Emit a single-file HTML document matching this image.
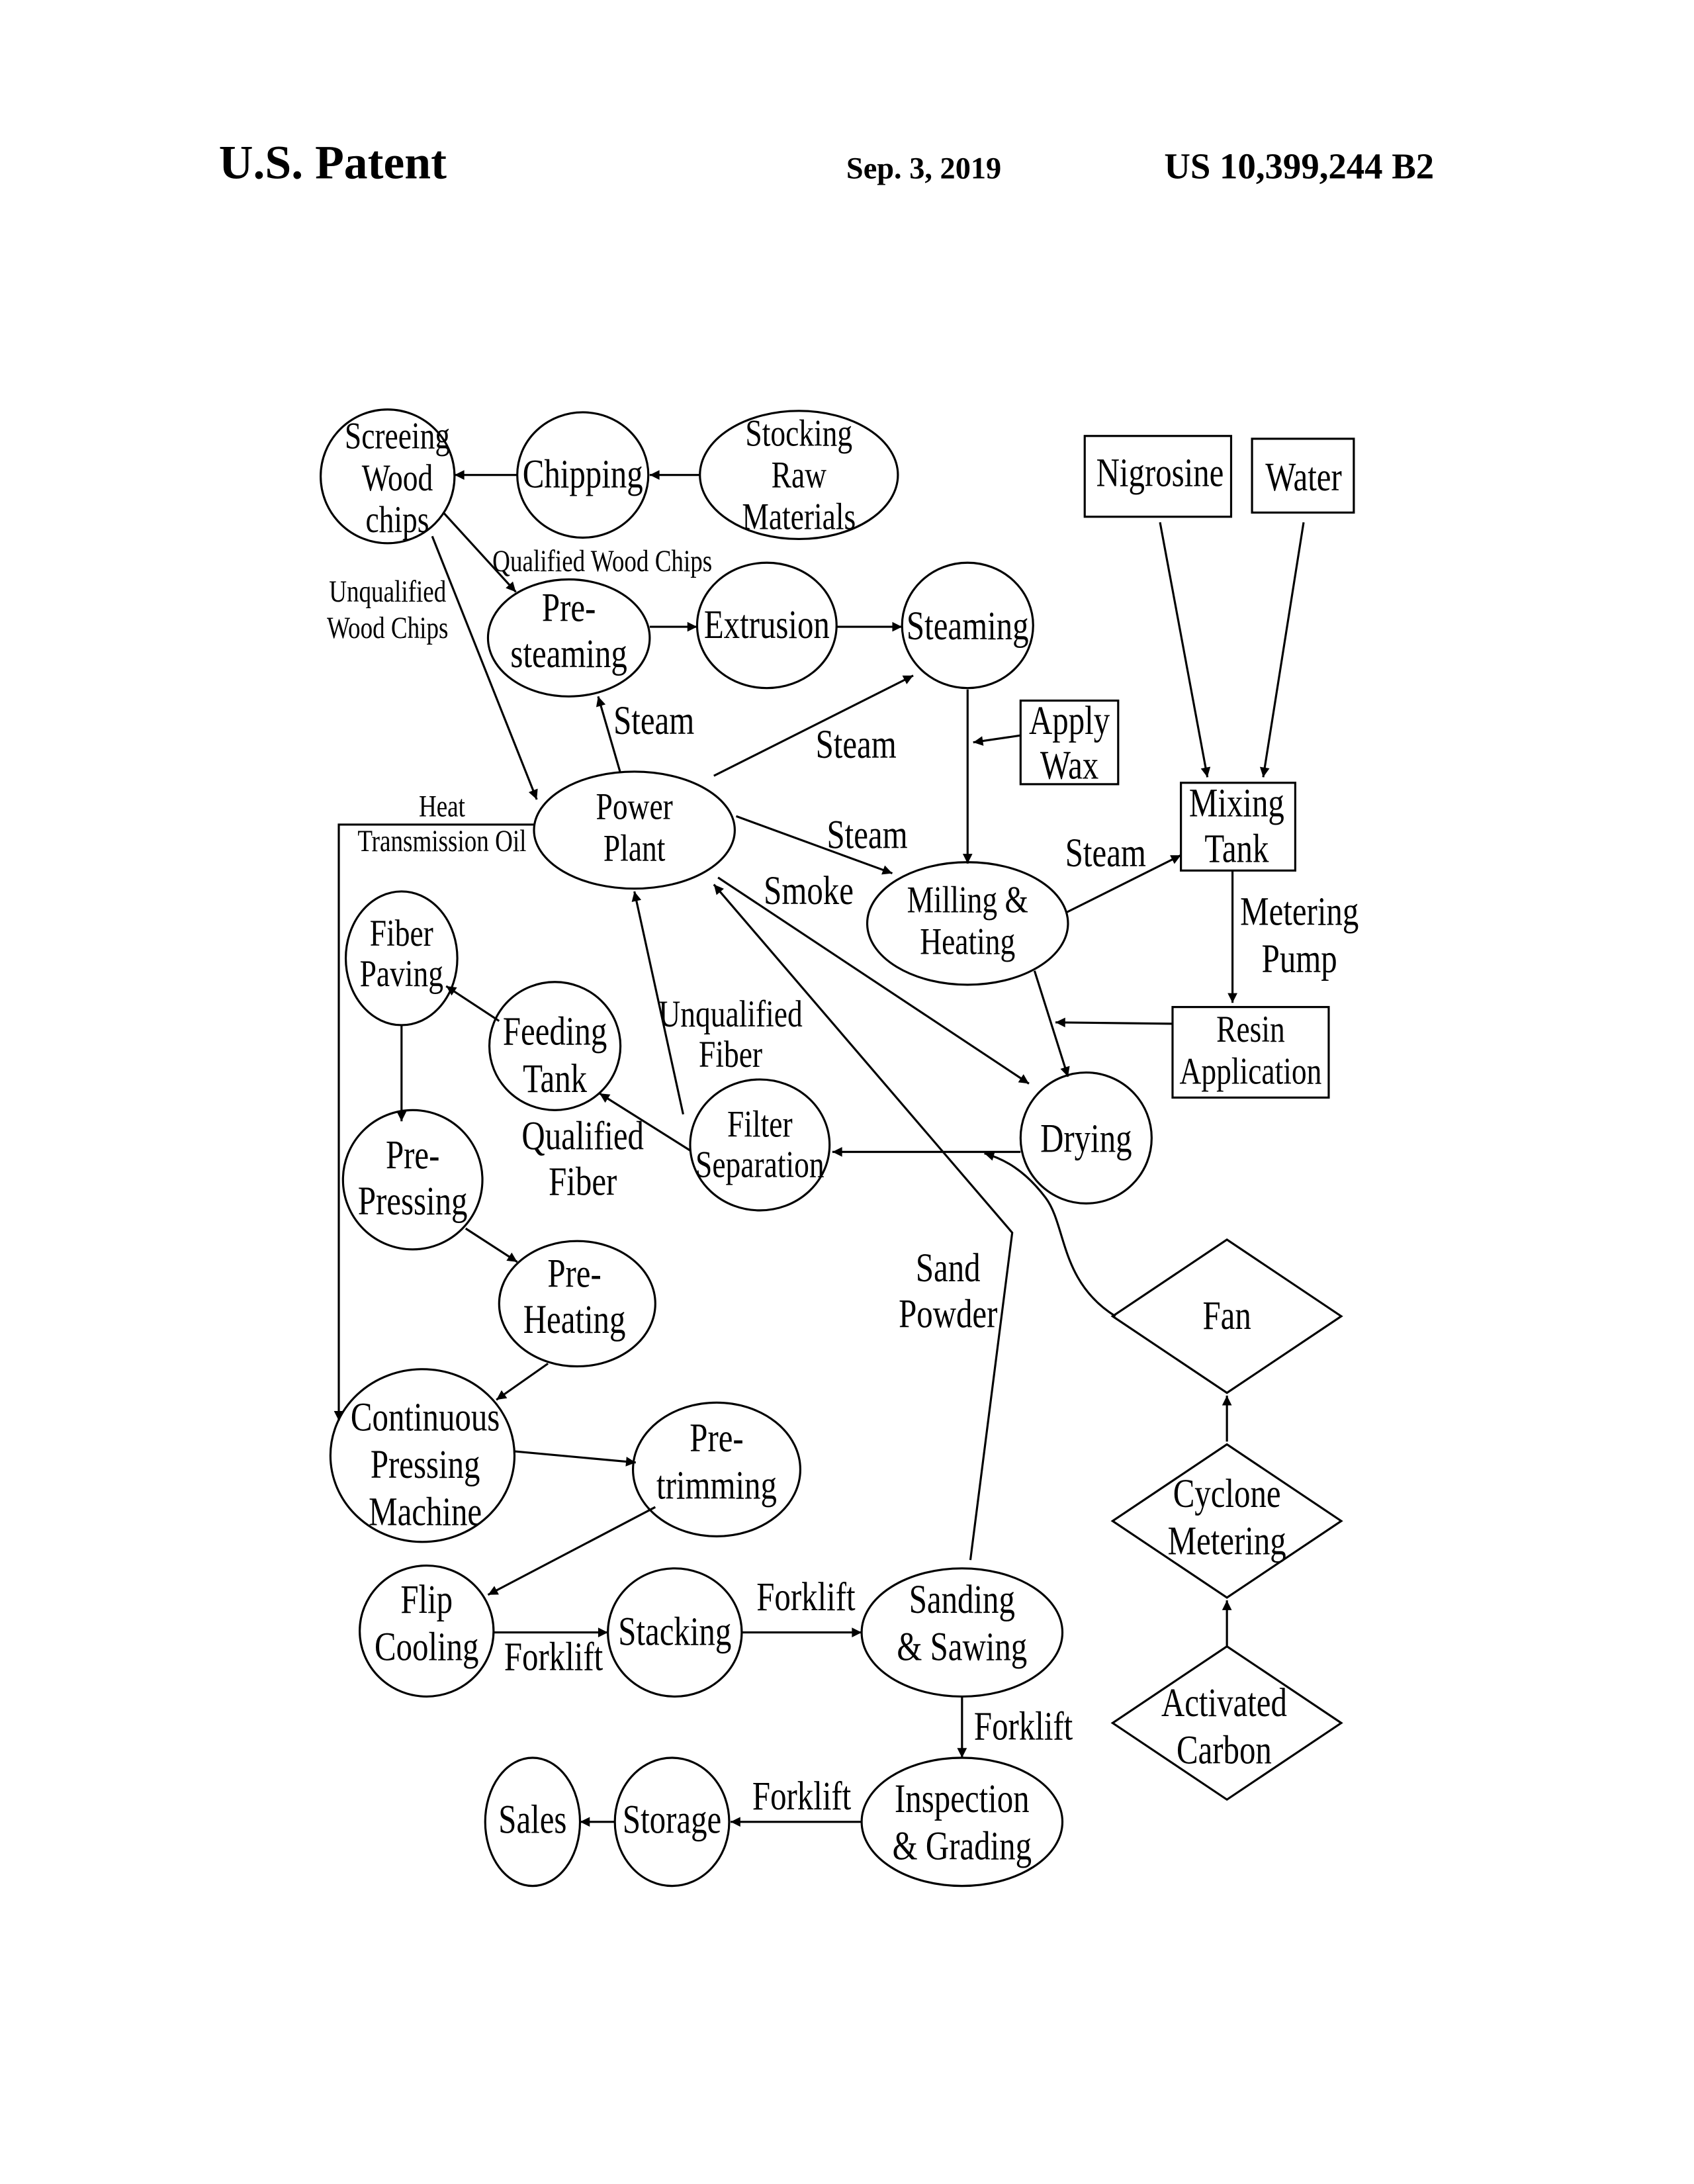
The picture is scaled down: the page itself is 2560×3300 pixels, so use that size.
<!DOCTYPE html>
<html><head><meta charset="utf-8"><style>
html,body{margin:0;padding:0;background:#fff}
svg{display:block}
text{font-family:"Liberation Serif",serif;fill:#000;text-anchor:middle;transform-box:fill-box;transform-origin:center;transform:scaleX(0.8)}
.s{font-size:22px}.m{font-size:27px}.l{font-size:29px}
.h{font-weight:bold;transform:none;text-anchor:start}
</style></head><body>
<svg width="2560" height="3300" viewBox="0 0 1215 1568" preserveAspectRatio="none" xmlns="http://www.w3.org/2000/svg">
<defs><marker id="a" viewBox="0 0 10 10" refX="10" refY="5" markerWidth="9" markerHeight="7" orient="auto" markerUnits="userSpaceOnUse"><path d="M0,0 L10,5 L0,10 z" fill="#000"/></marker></defs>
<text class="h" x="157" y="128" style="font-size:34px">U.S. Patent</text>
<text class="h" x="607" y="128" style="font-size:22px">Sep. 3, 2019</text>
<text class="h" x="835" y="128" style="font-size:26px">US 10,399,244 B2</text>
<g fill="none" stroke="#000" stroke-width="1.5">
<ellipse cx="278" cy="342" rx="48" ry="48"/>
<ellipse cx="418" cy="341" rx="47" ry="45"/>
<ellipse cx="573" cy="341" rx="71" ry="46"/>
<ellipse cx="408" cy="458" rx="58" ry="42"/>
<ellipse cx="550" cy="449" rx="50" ry="45"/>
<ellipse cx="694" cy="449" rx="47" ry="45"/>
<ellipse cx="455" cy="596" rx="72" ry="42"/>
<ellipse cx="694" cy="663" rx="72" ry="44"/>
<ellipse cx="288" cy="688" rx="40" ry="48"/>
<ellipse cx="398" cy="751" rx="47" ry="46"/>
<ellipse cx="545" cy="822" rx="50" ry="47"/>
<ellipse cx="779" cy="817" rx="47" ry="47"/>
<ellipse cx="296" cy="847" rx="50" ry="50"/>
<ellipse cx="414" cy="936" rx="56" ry="45"/>
<ellipse cx="303" cy="1045" rx="66" ry="62"/>
<ellipse cx="514" cy="1055" rx="60" ry="48"/>
<ellipse cx="306" cy="1171" rx="48" ry="47"/>
<ellipse cx="484" cy="1172" rx="48" ry="46"/>
<ellipse cx="690" cy="1172" rx="72" ry="46"/>
<ellipse cx="690" cy="1308" rx="72" ry="46"/>
<ellipse cx="482" cy="1308" rx="41" ry="46"/>
<ellipse cx="382" cy="1308" rx="34" ry="46"/>
<rect x="778" y="313" width="105" height="58"/>
<rect x="898" y="315" width="73" height="53"/>
<rect x="732" y="503" width="70" height="60"/>
<rect x="847" y="562" width="82" height="63"/>
<rect x="841" y="723" width="112" height="65"/>
<path d="M798,945 L880,890 L962,945 L880,1000 Z"/>
<path d="M798,1092 L880,1037 L962,1092 L880,1147 Z"/>
<path d="M798,1237 L880,1182 L962,1237 L880,1292 Z"/>
</g>
<g fill="none" stroke="#000" stroke-width="1.5" marker-end="url(#a)">
<line x1="502" y1="341" x2="466" y2="341"/>
<line x1="371" y1="341" x2="326" y2="341"/>
<line x1="318" y1="368" x2="370" y2="425"/>
<line x1="310" y1="385" x2="385" y2="574"/>
<line x1="466" y1="450" x2="500" y2="450"/>
<line x1="600" y1="450" x2="647" y2="450"/>
<line x1="445" y1="555" x2="429" y2="500"/>
<line x1="512" y1="557" x2="655" y2="485"/>
<line x1="528" y1="586" x2="640" y2="627"/>
<line x1="694" y1="495" x2="694" y2="620"/>
<line x1="732" y1="528" x2="698" y2="533"/>
<line x1="515" y1="630" x2="738" y2="778"/>
<line x1="765" y1="655" x2="847" y2="614"/>
<line x1="832" y1="375" x2="866" y2="558"/>
<line x1="935" y1="375" x2="906" y2="558"/>
<line x1="884" y1="625" x2="884" y2="720"/>
<line x1="841" y1="735" x2="757" y2="734"/>
<line x1="742" y1="697" x2="766" y2="773"/>
<line x1="732" y1="827" x2="597" y2="827"/>
<line x1="490" y1="800" x2="455" y2="640"/>
<line x1="495" y1="826" x2="430" y2="785"/>
<line x1="358" y1="733" x2="320" y2="708"/>
<line x1="288" y1="736" x2="288" y2="805"/>
<line x1="334" y1="882" x2="371" y2="906"/>
<line x1="393" y1="979" x2="356" y2="1005"/>
<polyline points="383,592 243,592 243,1020"/>
<line x1="369" y1="1042" x2="456" y2="1050"/>
<line x1="470" y1="1082" x2="350" y2="1145"/>
<line x1="354" y1="1172" x2="436" y2="1172"/>
<line x1="532" y1="1172" x2="618" y2="1172"/>
<line x1="690" y1="1218" x2="690" y2="1262"/>
<line x1="618" y1="1308" x2="524" y2="1308"/>
<line x1="441" y1="1308" x2="416" y2="1308"/>
<polyline points="696,1120 726,885 512,635"/>
<path d="M800,945 C760,920 765,880 750,860 C735,840 720,832 706,828"/>
<line x1="880" y1="1035" x2="880" y2="1002"/>
<line x1="880" y1="1182" x2="880" y2="1149"/>
</g>
<text class="m" x="285" y="322">Screeing</text><text class="m" x="285" y="352">Wood</text><text class="m" x="285" y="382">chips</text>
<text class="l" x="418" y="350">Chipping</text>
<text class="m" x="573" y="320">Stocking</text><text class="m" x="573" y="350">Raw</text><text class="m" x="573" y="380">Materials</text>
<text class="l" x="832" y="349">Nigrosine</text>
<text class="l" x="935" y="352">Water</text>
<text class="s" x="432" y="410">Qualified Wood Chips</text>
<text class="s" x="278" y="432">Unqualified</text><text class="s" x="278" y="458">Wood Chips</text>
<text class="l" x="408" y="446">Pre-</text><text class="l" x="408" y="479">steaming</text>
<text class="l" x="550" y="458">Extrusion</text>
<text class="l" x="694" y="459">Steaming</text>
<text class="l" x="767" y="527">Apply</text><text class="l" x="767" y="559">Wax</text>
<text class="l" x="469" y="527">Steam</text>
<text class="l" x="614" y="544">Steam</text>
<text class="l" x="622" y="609">Steam</text>
<text class="l" x="793" y="622">Steam</text>
<text class="l" x="580" y="649">Smoke</text>
<text class="l" x="887" y="586">Mixing</text><text class="l" x="887" y="619">Tank</text>
<text class="l" x="932" y="664">Metering</text><text class="l" x="932" y="698">Pump</text>
<text class="m" x="455" y="588">Power</text><text class="m" x="455" y="618">Plant</text>
<text class="s" x="317" y="586">Heat</text><text class="s" x="317" y="611">Transmission Oil</text>
<text class="m" x="694" y="655">Milling &amp;</text><text class="m" x="694" y="685">Heating</text>
<text class="m" x="897" y="748">Resin</text><text class="m" x="897" y="778">Application</text>
<text class="m" x="288" y="679">Fiber</text><text class="m" x="288" y="708">Paving</text>
<text class="l" x="398" y="750">Feeding</text><text class="l" x="398" y="784">Tank</text>
<text class="m" x="524" y="737">Unqualified</text><text class="m" x="524" y="766">Fiber</text>
<text class="l" x="418" y="825">Qualified</text><text class="l" x="418" y="858">Fiber</text>
<text class="m" x="545" y="816">Filter</text><text class="m" x="545" y="845">Separation</text>
<text class="l" x="779" y="827">Drying</text>
<text class="l" x="296" y="839">Pre-</text><text class="l" x="296" y="872">Pressing</text>
<text class="l" x="680" y="920">Sand</text><text class="l" x="680" y="953">Powder</text>
<text class="l" x="880" y="954">Fan</text>
<text class="l" x="412" y="924">Pre-</text><text class="l" x="412" y="957">Heating</text>
<text class="l" x="305" y="1027">Continuous</text><text class="l" x="305" y="1061">Pressing</text><text class="l" x="305" y="1095">Machine</text>
<text class="l" x="514" y="1042">Pre-</text><text class="l" x="514" y="1076">trimming</text>
<text class="l" x="880" y="1082">Cyclone</text><text class="l" x="880" y="1116">Metering</text>
<text class="l" x="306" y="1158">Flip</text><text class="l" x="306" y="1192">Cooling</text>
<text class="l" x="484" y="1181">Stacking</text>
<text class="l" x="397" y="1199">Forklift</text>
<text class="l" x="578" y="1156">Forklift</text>
<text class="l" x="690" y="1158">Sanding</text><text class="l" x="690" y="1192">&amp; Sawing</text>
<text class="l" x="734" y="1249">Forklift</text>
<text class="l" x="878" y="1232">Activated</text><text class="l" x="878" y="1266">Carbon</text>
<text class="l" x="575" y="1299">Forklift</text>
<text class="l" x="690" y="1301">Inspection</text><text class="l" x="690" y="1335">&amp; Grading</text>
<text class="l" x="482" y="1316">Storage</text>
<text class="l" x="382" y="1316">Sales</text>
</svg>
</body></html>
